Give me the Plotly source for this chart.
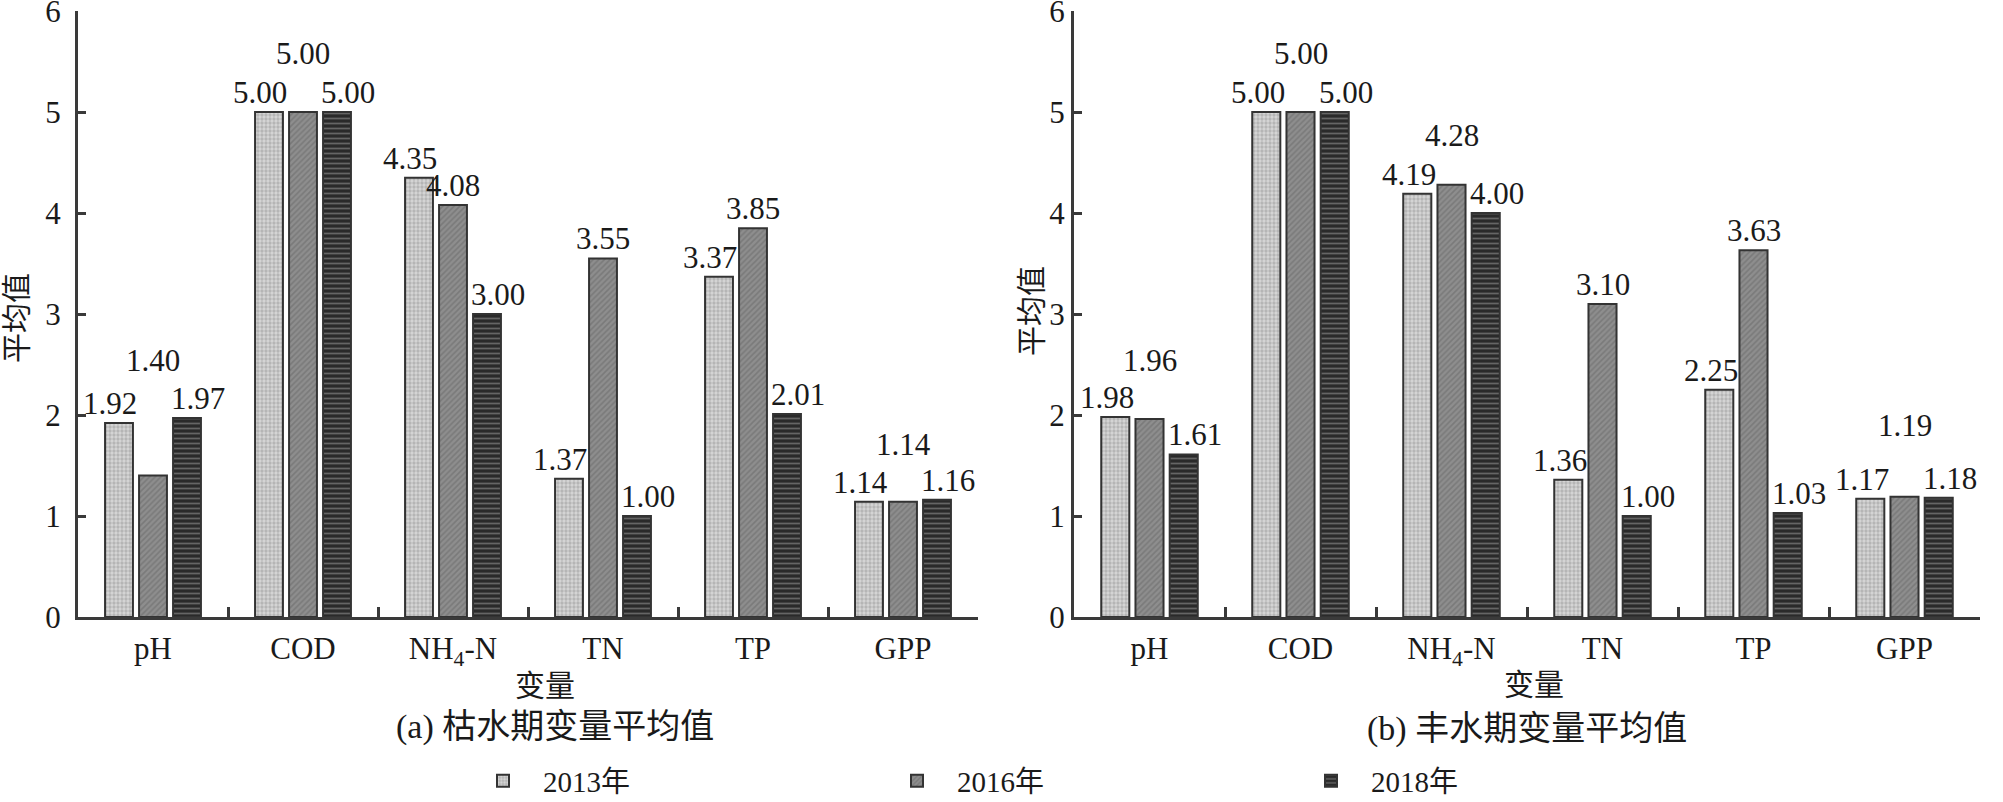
import plotly.graph_objects as go

# ---------------- data ----------------
categories = ["pH", "COD", "NH<sub>4</sub>-N", "TN", "TP", "GPP"]
series_names = ["2013年", "2016年", "2018年"]

# (a) 枯水期
dry_2013 = [1.92, 5.00, 4.35, 1.37, 3.37, 1.14]
dry_2016 = [1.40, 5.00, 4.08, 3.55, 3.85, 1.14]
dry_2018 = [1.97, 5.00, 3.00, 1.00, 2.01, 1.16]

# (b) 丰水期
wet_2013 = [1.98, 5.00, 4.19, 1.36, 2.25, 1.17]
wet_2016 = [1.96, 5.00, 4.28, 3.10, 3.63, 1.19]
wet_2018 = [1.61, 5.00, 4.00, 1.00, 1.03, 1.18]

y_ticks = [0, 1, 2, 3, 4, 5, 6]
panel_titles = ["(a) 枯水期变量平均值", "(b) 丰水期变量平均值"]
x_title = "变量"
y_title = "平均值"

# ---------------- styles ----------------
W, H = 2003, 802
FONT = "Liberation Serif, 'Noto Sans CJK SC', serif"
AXIS_COLOR = "#3a3a3a"

patterns = [
    dict(shape=".", bgcolor="#b2b2b2", fgcolor="#f6f6f6", size=4, solidity=0.55),
    dict(shape="/", bgcolor="#8e8e8e", fgcolor="#666666", size=4, solidity=0.4),
    dict(shape="-", bgcolor="#2a2a2a", fgcolor="#a0a0a0", size=5, solidity=0.35),
]

# label pixel lifts (series index -> per category) for staggered labels
lift_a = [[0, 0, 0, 0, 0, 0], [96, 39, 0, 0, 0, 38], [0, 0, 0, 0, 0, 0]]
lift_b = [[0, 0, 0, 0, 0, 0], [39, 39, 30, 0, 0, 52], [0, 0, 0, 0, 0, 0]]
label_dx = [-9, 0, 11]
bar_step_px = 34

# panel pixel geometry
def px_x(v):
    return v / W

def px_y(v):
    return (H - v) / H

x_dom_a = [px_x(78), px_x(978)]
x_dom_b = [px_x(1074), px_x(1980)]
y_dom = [px_y(617), px_y(11)]

fig = go.Figure()

panels = [
    ("x", "y", [dry_2013, dry_2016, dry_2018], lift_a, True),
    ("x2", "y2", [wet_2013, wet_2016, wet_2018], lift_b, False),
]

annotations = []
for xa, ya, series, lifts, show in panels:
    for s, vals in enumerate(series):
        fig.add_trace(go.Bar(
            x=categories, y=vals, name=series_names[s],
            xaxis=xa, yaxis=ya, showlegend=show,
            marker=dict(color=patterns[s]["bgcolor"],
                        line=dict(color="#333333", width=2),
                        pattern=patterns[s]),
            hoverinfo="skip",
        ))
        for i, v in enumerate(vals):
            annotations.append(dict(
                x=categories[i], y=v, xref=xa, yref=ya,
                text=f"{v:.2f}", showarrow=False,
                xshift=(s - 1) * bar_step_px + label_dx[s],
                yanchor="bottom", yshift=lifts[s][i],
                font=dict(family=FONT, size=31, color="#1a1a1a"),
            ))

axis_common = dict(
    showline=True, linecolor=AXIS_COLOR, linewidth=3,
    showgrid=False, zeroline=False, automargin=False,
    tickfont=dict(family=FONT, size=31, color="#1a1a1a"),
    tickcolor=AXIS_COLOR, tickwidth=3,
)

fig.update_layout(
    width=W, height=H,
    margin=dict(l=0, r=0, t=0, b=0, autoexpand=False),
    paper_bgcolor="white", plot_bgcolor="white",
    barmode="group", bargap=0.32, bargroupgap=0.18,
    xaxis=dict(domain=x_dom_a, anchor="y", type="category",
               ticks="inside", ticklen=10, tickson="boundaries",
               ticklabelstandoff=2, **axis_common),
    xaxis2=dict(domain=x_dom_b, anchor="y2", type="category",
                ticks="inside", ticklen=10, tickson="boundaries",
                ticklabelstandoff=2, **axis_common),
    yaxis=dict(domain=y_dom, anchor="x", range=[0, 6], tickvals=y_ticks,
               ticks="inside", ticklen=8, ticklabelstandoff=8,
               ticklabeloverflow="allow", **axis_common),
    yaxis2=dict(domain=y_dom, anchor="x2", range=[0, 6], tickvals=y_ticks,
                ticks="inside", ticklen=8, ticklabelstandoff=0,
                ticklabeloverflow="allow", **axis_common),
    legend=dict(orientation="h", x=px_x(463), xanchor="left",
                y=px_y(781), yanchor="middle",
                entrywidth=329, entrywidthmode="pixels", itemwidth=70,
                font=dict(family=FONT, size=29, color="#1a1a1a"),
                bgcolor="rgba(0,0,0,0)"),
    font=dict(family=FONT, color="#1a1a1a"),
)

# axis titles and panel captions
text_items = [
    (545, 685, x_title, 30, 0),
    (1534, 684, x_title, 30, 0),
    (555, 727, panel_titles[0], 34, 0),
    (1527, 729, panel_titles[1], 34, 0),
    (17, 318, y_title, 30, -90),
    (1031, 311, y_title, 30, -90),
]
for xp, yp, t, sz, ang in text_items:
    annotations.append(dict(
        x=px_x(xp), y=px_y(yp), xref="paper", yref="paper",
        text=t, showarrow=False, textangle=ang,
        xanchor="center", yanchor="middle",
        font=dict(family=FONT, size=sz, color="#1a1a1a"),
    ))

fig.update_layout(annotations=annotations)
fig.write_html("out.html", config={"displayModeBar": False},
               post_script="document.body.style.margin='0';")
